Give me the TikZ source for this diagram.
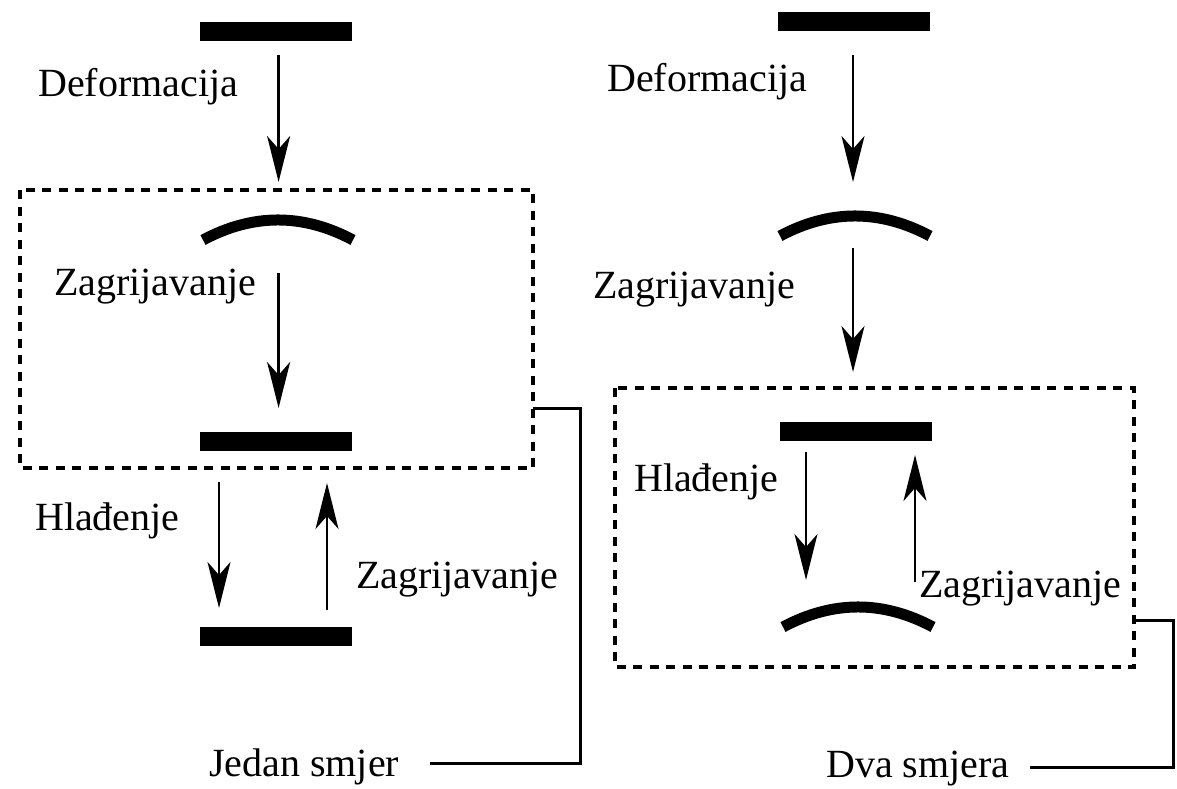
\documentclass[tikz,border=0pt]{standalone}
\usepackage{fontspec}
\setmainfont{Liberation Serif}
\newfontfamily\lblfont{Liberation Serif}
\usetikzlibrary{arrows.meta}
\begin{document}
\begin{tikzpicture}[x=1pt,y=-1pt,
  bar/.style={fill=black,draw=none,minimum width=152pt,minimum height=19pt,inner sep=0pt},
  lbl/.style={font=\lblfont\fontsize{40}{48}\selectfont,inner sep=0pt,anchor=base west},
  flow/.style={line width=2.8pt,-{Stealth[length=46pt,width=23pt,inset=13pt]}},
  bent/.style={line width=11pt},
  dbox/.style={line width=3.8pt,dash pattern=on 9pt off 7.5pt},
  link/.style={line width=3pt}]
\useasboundingbox[fill=white] (0,0) rectangle (1177,789);
% ---------- left ----------
\node[bar] (l1) at (276,31.5) {};
\node[lbl] (ldef) at (38,97) {Deformacija};
\coordinate (la1s) at (278.6,55);
\coordinate (la1e) at (278.6,182);
\draw[flow] (la1s) -- (la1e);
\draw[dbox] (20,190) rectangle (533,468);
\coordinate (lbox) at (533,408);
\coordinate (larc) at (278,220);
\draw[bent] ([shift={(-75,20)}]larc) .. controls ([shift={(-25,-6.7)}]larc) and ([shift={(25,-6.7)}]larc) .. ([shift={(75,20)}]larc);
\node[lbl] (lzag1) at (54,295) {Zagrijavanje};
\coordinate (la2s) at (278.6,273);
\coordinate (la2e) at (278.6,408);
\draw[flow] (la2s) -- (la2e);
\node[bar] (l2) at (276,441.5) {};
\node[lbl] (lhla) at (35,530) {Hlađenje};
\coordinate (la3s) at (219,482);
\coordinate (la3e) at (219,608);
\draw[flow] (la3s) -- (la3e);
\coordinate (la4s) at (327,610);
\coordinate (la4e) at (327,483);
\draw[flow] (la4s) -- (la4e);
\node[lbl] (lzag2) at (356,588) {Zagrijavanje};
\node[bar] (l3) at (276,636) {};
\node[lbl] (ljed) at (209,776) {Jedan smjer};
\coordinate (lend) at (430,763);
\draw[link] (lbox) -- (580,408) -- (580,763) -- (lend);
% ---------- right ----------
\node[bar] (r1) at (854,21.5) {};
\node[lbl] (rdef) at (607,92) {Deformacija};
\coordinate (ra1s) at (853,55);
\coordinate (ra1e) at (853,182);
\draw[flow] (ra1s) -- (ra1e);
\coordinate (rarc1) at (855,216);
\draw[bent] ([shift={(-75,20)}]rarc1) .. controls ([shift={(-25,-6.7)}]rarc1) and ([shift={(25,-6.7)}]rarc1) .. ([shift={(75,20)}]rarc1);
\node[lbl] (rzag1) at (593,298) {Zagrijavanje};
\coordinate (ra2s) at (853,248);
\coordinate (ra2e) at (853,372);
\draw[flow] (ra2s) -- (ra2e);
\draw[dbox] (615,388) rectangle (1134,667);
\coordinate (rbox) at (1134,620);
\node[bar] (r2) at (856,431.5) {};
\node[lbl] (rhla) at (634,491) {Hlađenje};
\coordinate (ra3s) at (806,452);
\coordinate (ra3e) at (806,580);
\draw[flow] (ra3s) -- (ra3e);
\coordinate (ra4s) at (915,582);
\coordinate (ra4e) at (915,455);
\draw[flow] (ra4s) -- (ra4e);
\node[lbl] (rzag2) at (919,597) {Zagrijavanje};
\coordinate (rarc2) at (858,607);
\draw[bent] ([shift={(-75,20)}]rarc2) .. controls ([shift={(-25,-6.7)}]rarc2) and ([shift={(25,-6.7)}]rarc2) .. ([shift={(75,20)}]rarc2);
\node[lbl] (rdva) at (826,777) {Dva smjera};
\coordinate (rend) at (1030,767);
\draw[link] (rbox) -- (1173,620) -- (1173,767) -- (rend);
\end{tikzpicture}
\end{document}
